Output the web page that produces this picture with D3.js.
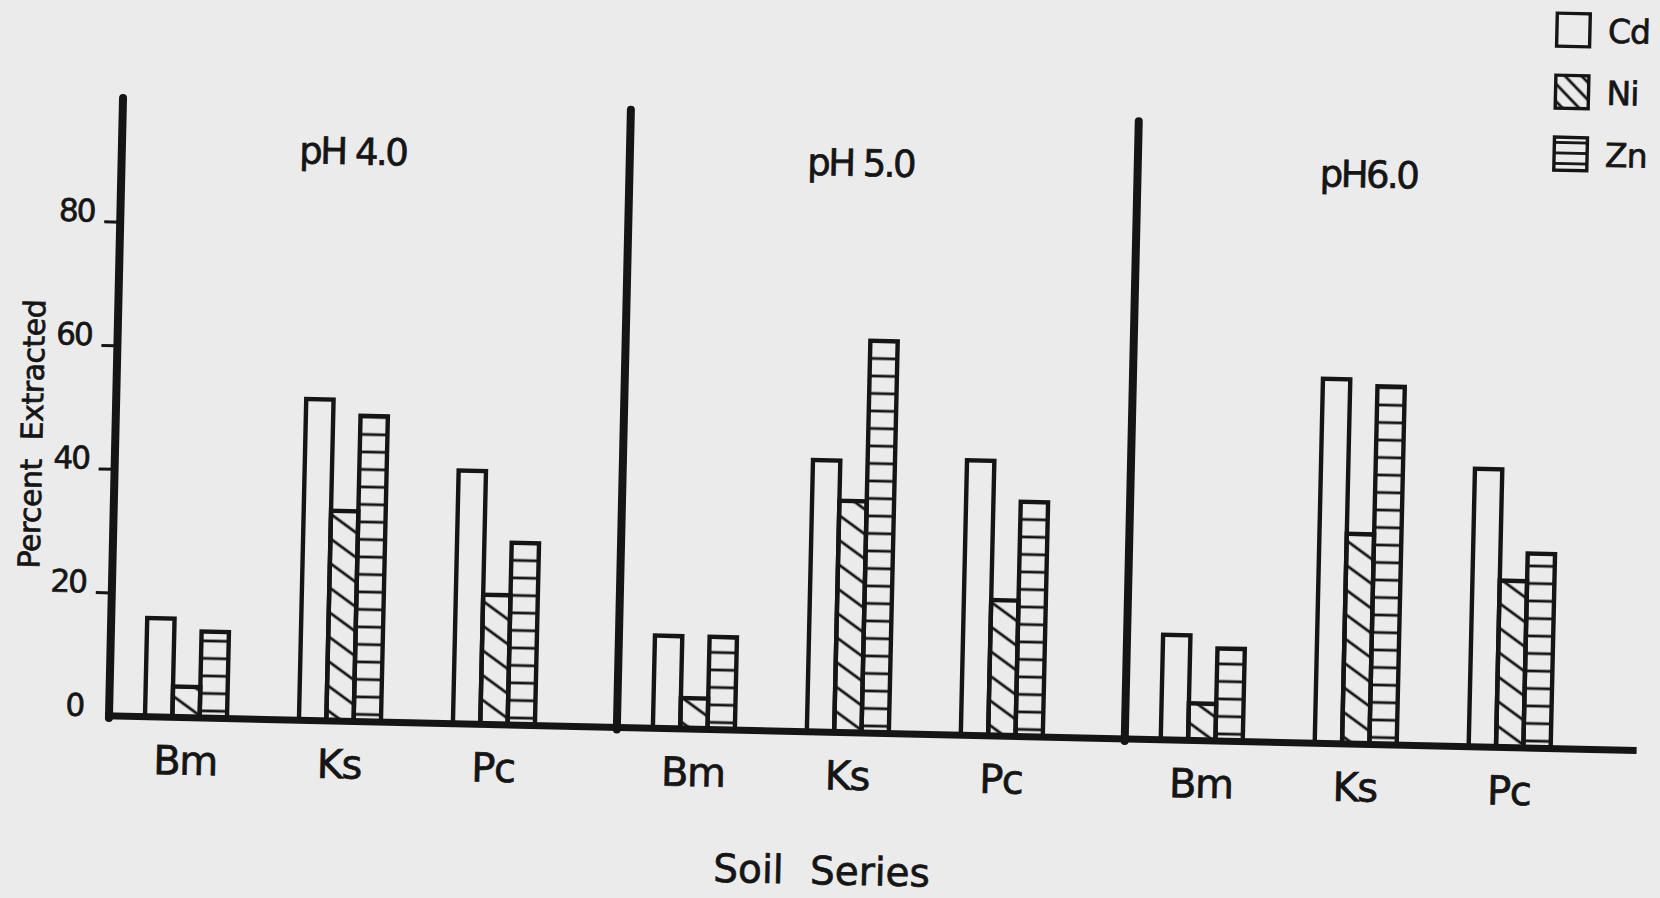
<!DOCTYPE html>
<html>
<head>
<meta charset="utf-8">
<script src="https://cdn.jsdelivr.net/npm/d3@7"></script>
<style>
  html, body { margin: 0; padding: 0; background: #ebebeb; }
  svg { display: block; }
  text { font-family: "DejaVu Sans", sans-serif; fill: #151515; stroke: #151515; stroke-width: 0.7px; }
</style>
</head>
<body>
<svg id="chart"></svg>
<script>
const phLabels = ["pH 4.0", "pH 5.0", "pH6.0"];
const soils = ["Bm", "Ks", "Pc"];
const metals = ["Cd", "Ni", "Zn"];
// percent extracted: one row per pH, columns follow soils
const cdValues = [[16, 52, 41], [15, 44, 44.5], [17, 59, 45]];
const niValues = [[5, 34, 21], [5, 37.5, 22], [6, 34, 27]];
const znValues = [[14, 49.5, 29.5], [15, 63.5, 38], [15, 58, 31.5]];
const yTicks = [0, 20, 40, 60, 80];
const yTitle = "Percent Extracted";
const xTitle = "Soil Series";

const width = 1660;
const height = 898;
const ink = "#151515";
const paper = "#ebebeb";

const series = { Cd: cdValues, Ni: niValues, Zn: znValues };

const svg = d3.select('#chart')
  .attr('width', width)
  .attr('height', height);

svg.append('rect')
  .attr('width', width)
  .attr('height', height)
  .attr('fill', paper);

const defs = svg.append('defs');

function addPatterns(suffix, k, angle) {
  defs.append('pattern')
    .attr('id', 'hatch-ni' + suffix)
    .attr('patternUnits', 'userSpaceOnUse')
    .attr('width', 20 * k)
    .attr('height', 20 * k)
    .attr('patternTransform', 'rotate(' + angle + ')')
    .append('line')
    .attr('x1', 0).attr('x2', 20 * k)
    .attr('y1', 10 * k).attr('y2', 10 * k)
    .attr('stroke', ink)
    .attr('stroke-width', 2.8);

  defs.append('pattern')
    .attr('id', 'hatch-zn' + suffix)
    .attr('patternUnits', 'userSpaceOnUse')
    .attr('width', 20)
    .attr('height', 17.5 * k)
    .append('line')
    .attr('x1', 0).attr('x2', 20)
    .attr('y1', 8.75 * k).attr('y2', 8.75 * k)
    .attr('stroke', ink)
    .attr('stroke-width', 2.8);
}
addPatterns('', 1, 35);
addPatterns('-legend', 0.6, 45);

const fillFor = (m, suffix) => m === 'Cd' ? 'none' : 'url(#hatch-' + m.toLowerCase() + (suffix || '') + ')';

// the scanned page sits slightly rotated
const g = svg.append('g').attr('transform', 'rotate(1.3, 111, 716)');

const y = d3.scaleLinear().domain([0, 100]).range([716, 98]);
const xPanel = d3.scaleBand().domain(phLabels).range([109, 1633]);
const xSoil = d3.scalePoint().domain(soils).range([77, 385]);
const xMetal = d3.scaleBand().domain(metals).range([-41, 41]);

const bars = phLabels.flatMap((ph, i) =>
  soils.flatMap((soil, j) =>
    metals.map(metal => ({ ph, soil, metal, value: series[metal][i][j] }))));

g.append('g')
  .selectAll('rect')
  .data(bars)
  .enter()
  .append('rect')
  .attr('x', d => xPanel(d.ph) + xSoil(d.soil) + xMetal(d.metal))
  .attr('y', d => y(d.value))
  .attr('width', xMetal.bandwidth())
  .attr('height', d => y(0) - y(d.value))
  .attr('fill', d => fillFor(d.metal))
  .attr('stroke', ink)
  .attr('stroke-width', 4.4);

// panel axes
g.append('g')
  .selectAll('line')
  .data(phLabels)
  .enter()
  .append('line')
  .attr('x1', d => xPanel(d))
  .attr('x2', d => xPanel(d))
  .attr('y1', y(0) + 2)
  .attr('y2', y(100))
  .attr('stroke', ink)
  .attr('stroke-width', 8)
  .attr('stroke-linecap', 'round');

g.append('line')
  .attr('x1', xPanel.range()[0] - 4)
  .attr('x2', xPanel.range()[1] + 4)
  .attr('y1', y(0))
  .attr('y2', y(0))
  .attr('stroke', ink)
  .attr('stroke-width', 7);

const yAxis = g.append('g')
  .attr('transform', `translate(${xPanel(phLabels[0])},0)`)
  .call(d3.axisLeft(y).tickValues(yTicks).tickSize(16).tickPadding(10));
yAxis.select('.domain').remove();
yAxis.selectAll('.tick line')
  .attr('stroke', ink)
  .attr('stroke-width', 3)
  .attr('display', d => d === 0 ? 'none' : null);
yAxis.selectAll('.tick text')
  .attr('dy', '0')
  .attr('fill', ink)
  .style('font-family', '"DejaVu Sans", sans-serif')
  .style('font-size', '31px')
  .style('letter-spacing', '-2px');

// pH titles
g.append('g')
  .selectAll('text')
  .data(phLabels)
  .enter()
  .append('text')
  .attr('x', d => xPanel(d) + xSoil('Ks'))
  .attr('y', 159)
  .attr('text-anchor', 'middle')
  .style('font-size', '37px')
  .style('letter-spacing', '-2.5px')
  .text(d => d);

// soil labels
g.append('g')
  .selectAll('text')
  .data(phLabels.flatMap(ph => soils.map(soil => ({ ph, soil }))))
  .enter()
  .append('text')
  .attr('x', d => xPanel(d.ph) + xSoil(d.soil))
  .attr('y', 773)
  .attr('text-anchor', 'middle')
  .style('font-size', '40px')
  .style('letter-spacing', '-1.5px')
  .text(d => d.soil);

g.append('text')
  .attr('transform', 'translate(36, 436) rotate(-90)')
  .attr('text-anchor', 'middle')
  .style('font-size', '30px')
  .style('word-spacing', '10px')
  .style('letter-spacing', '-0.5px')
  .text(yTitle);

g.append('text')
  .attr('x', 825)
  .attr('y', 868)
  .attr('text-anchor', 'middle')
  .style('font-size', '39px')
  .style('word-spacing', '14px')
  .text(xTitle);

// legend
const legend = g.append('g')
  .selectAll('g')
  .data(metals)
  .enter()
  .append('g')
  .attr('transform', (d, i) => `translate(1541, ${-19.5 + i * 62})`);

legend.append('rect')
  .attr('width', 33)
  .attr('height', 33)
  .attr('fill', d => fillFor(d, '-legend'))
  .attr('stroke', ink)
  .attr('stroke-width', 3.4);

legend.append('text')
  .attr('x', 51)
  .attr('y', 16.5)
  .attr('dy', '0.36em')
  .style('font-size', '33px')
  .style('letter-spacing', '-1px')
  .text(d => d);
</script>
</body>
</html>
